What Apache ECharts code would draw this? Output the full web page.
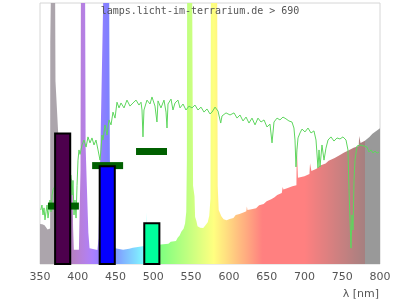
<!DOCTYPE html>
<html><head><meta charset="utf-8">
<script src="https://cdn.jsdelivr.net/npm/echarts@6/dist/echarts.min.js"></script>
<style>html,body{margin:0;padding:0;background:#fff}#c{width:400px;height:300px}</style>
</head><body><div id="c"></div>
<script>
const titleText = 'lamps.licht-im-terrarium.de > 690';
const axisName = 'λ [nm]';
const xTicks = [350, 400, 450, 500, 550, 600, 650, 700, 750, 800];

// lamp spectrum (nm, relative value)
const specNm = [350,353,356,358,360,362,363.4,363.6,364.4,364.8,369.9,370.5,375,382,388,390.6,393,393.8,394.8,401.5,402.6,403.6,404.2,409.6,410.4,412,414,415.6,416.5,426,427.5,428.5,430,434.4,441.4,442.5,446,449.5,451,460,468,473,475,486,491,491.3,492.2,492.5,505,510,520,523,530,532,535,537,540,542,543.6,544.4,544.8,551.3,552.6,554.5,555.3,557,558.5,562,566,569,572,574,575.6,576.2,584.4,585.2,586.5,588,590,593,597,601,606,609,614,620,623,623.8,624.6,630,636,640,646,650,656,660,664,670,671.2,672.2,677,684,689.4,689.8,690.8,691.4,700,706.6,707.4,708.4,709.2,716,720,728,732,740,747,752,760,765,771.8,772.4,773.6,774.2,780,782,786,790,795,800];
const specVal = [15.3,15.2,14.8,14.2,13.2,13.6,13.6,85,85,112,112,70,45,38,34,34,32,14,5.5,5.5,22,36,112,112,45,30,12,6,5.4,5.4,10,25,45,112,112,40,15,6,5.4,5.5,5.8,6.2,6.8,6.8,7,19.7,19.7,7,7.3,7.5,7.8,8.5,8.8,10,11,12.4,13.5,15.5,20,40,112,112,30,26,18,16.5,14.5,13.9,13.8,14.8,16,18.5,25,112,112,30,20.7,20,18.3,17.1,16.8,17.2,17.6,18.8,19.2,19.8,20.2,22,20.7,21,21.4,22.5,23,24,24.8,25.5,26.4,27.2,29.5,28.5,29,29.8,30.2,45.6,45.6,33,33.6,34.5,38.6,38.6,35.6,36.5,37.6,38.5,39.6,40.6,41.8,42.6,43.8,44.5,45.2,49,49,46.4,47.2,47.5,48.7,49.9,51,52];

// reference (daylight) curve
const sunNm = [351,352.6,354,355.3,356.6,358,359.3,360.6,362,363.2,364.6,366,367.2,372,378,384,389,391,392.4,393.7,395,396.3,397.7,399,400.3,401.6,403,405.6,408.2,411,413.5,416.2,418.8,421.5,424.1,426.8,429.4,430.7,432,433.4,436,438.7,441.3,444,446.6,449.3,451.9,454.6,457.2,461.2,465.1,469.1,473.1,477.1,481,483.7,485,486.3,487.6,491.6,495.6,498.2,502.2,504.8,506.2,510.1,514.1,516.8,518.1,519.4,523.4,526,528.7,532.6,535.3,539.3,543.2,547.2,551.2,555.1,559.1,563.1,567.1,571,575,577.7,581.7,585.6,589.2,590.9,596.2,601.5,606.8,610.8,614.7,618.7,622.7,626.6,630.6,634.6,638.5,642.5,646.5,650.4,654.4,657.1,659.7,663.7,667.6,671.6,675.6,679.5,683.5,686.1,687.5,688.8,690.1,691.5,694.1,696.8,700.7,704.7,708.7,712.6,715.3,717.9,719.3,720.6,723.2,725.9,728.5,731.2,735.1,739.1,743.1,747,751,755,757.6,759,760.3,761.6,762.9,764.3,765.6,766.9,769.6,773.5,778.8,782.8,785.4,788.1,790.7,793.4,796,798.7];
const sunVal = [20.7,22.6,18.8,21.5,16.9,20,22.6,17.6,20.7,24.5,20,26.4,28.4,31,34,33,35,34,26.4,32,18.8,24.5,17.6,30,39.8,43.7,42,45.6,47.5,44.8,48.7,46.4,48.3,45.6,47.5,43.7,39.8,43.7,49.4,47.5,53.3,49.4,55.2,53.3,58.2,55.9,62,59.8,61.7,59.8,62.8,60.5,61.7,62.8,60.9,62,59,48.7,59,62.8,61.3,64,60.5,54.4,62.5,59.8,62.8,58.2,52.1,61.3,63.2,59,61.7,62.8,59.8,61.3,59,60.5,59.8,60.9,59,60.1,58.2,59.4,57.5,58.2,60.1,58.6,54,56.7,57.9,57.1,57.9,55.9,57.1,54.8,56.3,54,55.9,53.3,55.9,54.4,55.2,52.5,53.6,46.4,54.4,55.9,55.2,56.3,55.6,54.8,54.4,52.1,47.5,37.2,43.7,48.3,50.2,51.7,50.6,52.1,50.2,51,47.5,36.8,43.7,37.2,45.6,39.8,44.4,47.5,48.7,47.1,48.3,47.9,48.7,47.5,43.7,28.4,16.9,6.1,18.8,13,32,39.8,45.2,45.6,45.2,44.8,42.9,43.7,42.5,43.3,42.5,42.9];

// band bars and markers
const barNm = [380, 439, 498];
const barVal = [50, 37.5, 15.6];
const segNm = [381, 439.5, 497.6];
const segVal = [22.2, 37.7, 43.1];

// styles
const BAR_HALF = 10, SEG_HALF = 20.5;
const barColors = ['#4d004d', '#0400ff', '#00ff9c'];

function bruton(l) {
  let r = 0, g = 0, b = 0;
  if (l < 440) { r = -(l - 440) / 60; b = 1; }
  else if (l < 490) { g = (l - 440) / 50; b = 1; }
  else if (l < 510) { g = 1; b = -(l - 510) / 20; }
  else if (l < 580) { r = (l - 510) / 70; g = 1; }
  else if (l < 645) { r = 1; g = -(l - 645) / 65; }
  else { r = 1; }
  let f = 1;
  if (l < 420) f = 0.3 + 0.7 * (l - 380) / 40;
  else if (l > 700) f = 0.3 + 0.7 * (780 - l) / 80;
  const c = v => Math.round((v * f * 255 + 255) / 2);
  return 'rgb(' + c(r) + ',' + c(g) + ',' + c(b) + ')';
}
const stops = [{offset: 0, color: '#aca5ac'}, {offset: (379.9 - 350) / 450, color: '#aca5ac'}];
for (let l = 380; l <= 780; l += 2) stops.push({offset: (l - 350) / 450, color: bruton(l)});
stops.push({offset: (780.2 - 350) / 450, color: '#999999'});
stops.push({offset: 1, color: '#999999'});

const chart = echarts.init(document.getElementById('c'));
chart.setOption({
  animation: false,
  title: {
    text: titleText, left: 'center', top: 6, padding: 0,
    textStyle: {fontFamily: 'DejaVu Sans Mono', fontSize: 10, fontWeight: 'normal', color: '#555'}
  },
  grid: {left: 40, right: 20, top: 3, bottom: 36, show: true, borderColor: '#d6d6d6', borderWidth: 1},
  xAxis: {
    type: 'value', min: xTicks[0], max: xTicks[xTicks.length - 1], interval: 50,
    axisLine: {show: false}, axisTick: {show: false}, splitLine: {show: false},
    axisLabel: {color: '#555', fontSize: 11, fontFamily: 'DejaVu Sans', margin: 8}
  },
  yAxis: {type: 'value', min: 0, max: 100, show: false},
  graphic: [{
    type: 'text', right: 21, top: 289,
    style: {text: axisName, fill: '#555', font: '11px DejaVu Sans'}
  }],
  series: [
    {
      type: 'line', z: 1, symbol: 'none', silent: true,
      data: specNm.map((x, i) => [x, specVal[i]]),
      lineStyle: {width: 0},
      areaStyle: {opacity: 1, color: new echarts.graphic.LinearGradient(0, 0, 1, 0, stops)}
    },
    {
      type: 'line', z: 2, symbol: 'none', silent: true,
      data: sunNm.map((x, i) => [x, sunVal[i]]),
      lineStyle: {width: 1, color: '#5ed65e'}
    },
    {
      type: 'custom', z: 3, silent: true,
      data: segNm.map((x, i) => [x, segVal[i]]),
      renderItem: (params, api) => {
        const c = api.value(0), v = api.value(1);
        const p1 = api.coord([c - SEG_HALF, v]);
        const p2 = api.coord([c + SEG_HALF, v]);
        return {type: 'rect', shape: {x: p1[0], y: p1[1] - 3.5, width: p2[0] - p1[0], height: 7}, style: {fill: '#006000'}};
      }
    },
    {
      type: 'custom', z: 4, silent: true,
      data: barNm.map((x, i) => [x, barVal[i]]),
      renderItem: (params, api) => {
        const c = api.value(0), v = api.value(1);
        const p0 = api.coord([c - BAR_HALF, 0]);
        const p1 = api.coord([c + BAR_HALF, v]);
        return {type: 'rect', shape: {x: p0[0], y: p1[1], width: p1[0] - p0[0], height: p0[1] - p1[1]},
          style: {fill: barColors[params.dataIndex], stroke: '#000', lineWidth: 2}};
      }
    }
  ]
});
</script></body></html>
